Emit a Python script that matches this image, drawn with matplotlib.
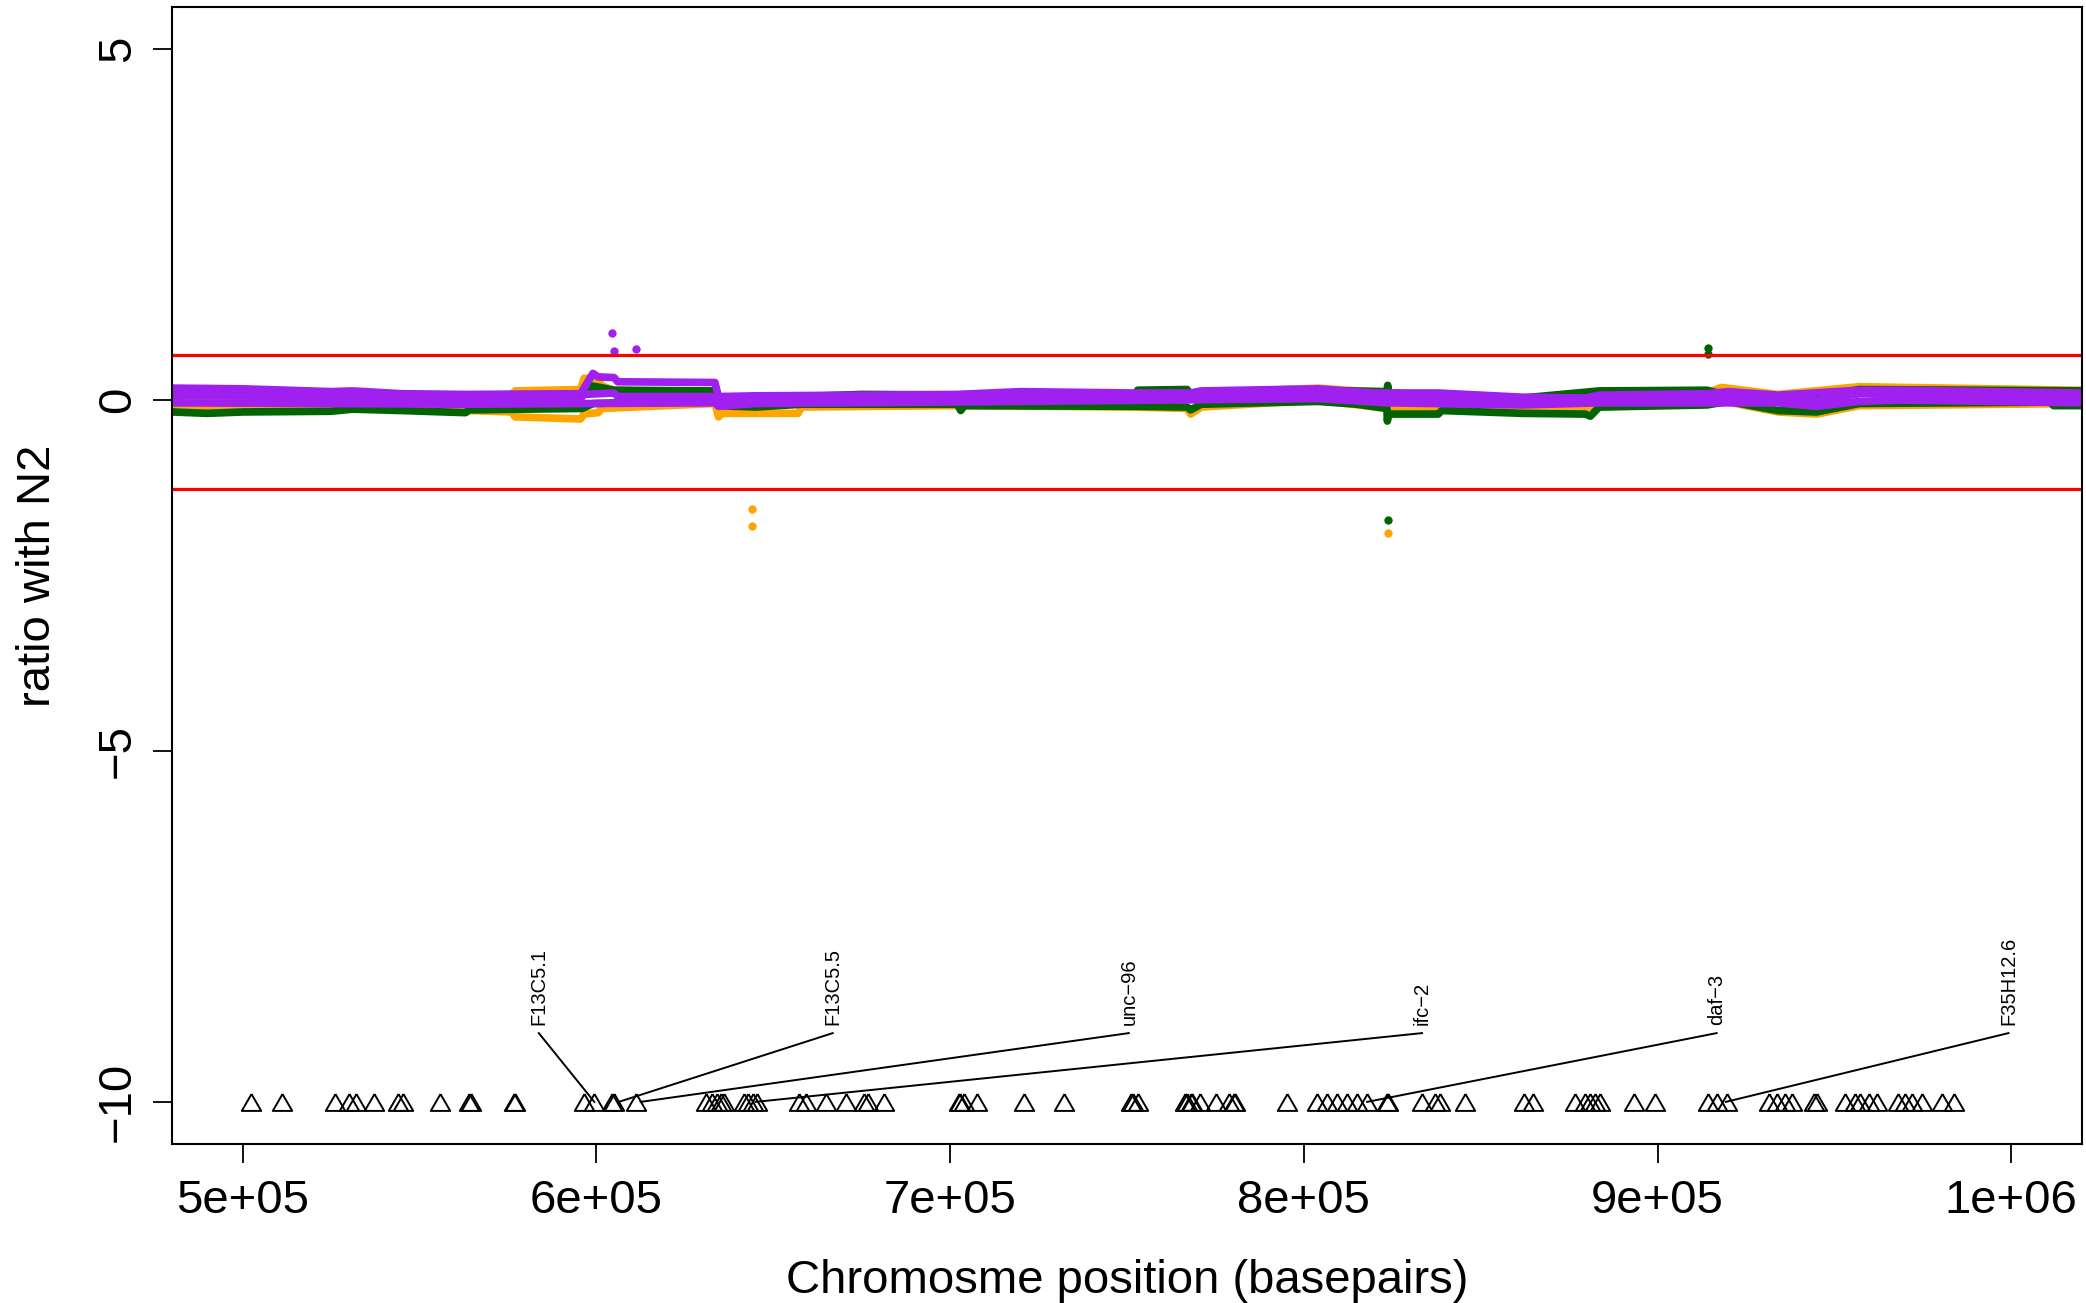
import matplotlib
matplotlib.use('Agg')
import matplotlib.pyplot as plt

plt.rcParams['font.family'] = ['Liberation Sans', 'DejaVu Sans']

# ratio tracks, several per strain colour (x in bp, y ratio)
orange_x1 = [480000, 563000, 564000, 576000, 577000, 595500, 596500, 600500, 601500, 605000,
             633500, 634500, 700000, 750000, 804000, 823500, 862000, 883500, 914000, 918000,
             934000, 957000, 969000, 1020000]
orange_y1 = [0.05, 0.03, 0.06, 0.08, 0.13, 0.15, 0.31, 0.30, 0.20, 0.14,
             0.10, 0.00, 0.05, 0.06, 0.17, 0.10, 0.03, 0.05, 0.10, 0.18,
             0.08, 0.19, 0.18, 0.14]
orange_x2 = [480000, 563000, 564000, 576000, 577000, 595500, 596500, 600500, 601500, 633500,
             634500, 635500, 657000, 658000, 702000, 752000, 767000, 768000, 771000, 804000,
             823500, 824000, 838000, 839000, 862000, 883500, 914000, 920000, 934000, 945000,
             957000, 1020000]
orange_y2 = [-0.10, -0.12, -0.15, -0.17, -0.24, -0.27, -0.20, -0.18, -0.12, -0.05,
             -0.24, -0.19, -0.19, -0.10, -0.08, -0.10, -0.12, -0.20, -0.10, 0.00,
             -0.12, -0.13, -0.14, -0.10, -0.10, -0.10, -0.05, -0.03, -0.17, -0.20,
             -0.08, -0.05]

green_x1 = [480000, 563000, 596000, 599000, 605000, 633500, 634500, 658000, 675000, 752000,
            753000, 767000, 768000, 804000, 823500, 823700, 824000, 862000, 883500, 914000,
            920000, 945000, 957000, 1020000]
green_y1 = [0.10, 0.05, 0.08, 0.20, 0.14, 0.13, 0.00, 0.05, 0.08, 0.06,
            0.14, 0.15, 0.08, 0.14, 0.12, 0.21, 0.10, 0.03, 0.13, 0.14,
            0.06, 0.05, 0.15, 0.13]
green_x2 = [480000, 490000, 500000, 525000, 531000, 545000, 563000, 564000, 596000, 599000,
            633500, 634500, 645000, 658000, 702000, 703000, 704000, 752000, 767000, 768000,
            771000, 804000, 815000, 823500, 823600, 824000, 838000, 839000, 862000, 879600,
            881000, 883500, 914000, 920000, 934000, 945000, 957000, 1011000, 1012000, 1020000]
green_y2 = [-0.17, -0.19, -0.17, -0.16, -0.13, -0.15, -0.18, -0.14, -0.12, -0.05,
            0.00, -0.08, -0.10, -0.06, -0.06, -0.15, -0.08, -0.09, -0.10, -0.14,
            -0.06, -0.02, -0.06, -0.12, -0.30, -0.20, -0.20, -0.15, -0.19, -0.20,
            -0.23, -0.10, -0.07, -0.02, -0.15, -0.17, -0.05, -0.03, -0.08, -0.08]

purple_x1 = [480000, 500000, 525000, 531000, 545000, 563000, 595500, 596500, 599000, 600500,
             605000, 606000, 633500, 634500, 645000, 675000, 702000, 720000, 752000, 768000,
             771000, 804000, 820000, 838000, 862000, 879600, 883500, 914000, 920000, 934000,
             957000, 969000, 1020000]
purple_y1 = [0.17, 0.16, 0.12, 0.13, 0.09, 0.08, 0.09, 0.17, 0.38, 0.33,
             0.32, 0.26, 0.25, 0.05, 0.06, 0.07, 0.08, 0.12, 0.10, 0.10,
             0.13, 0.16, 0.10, 0.10, 0.04, 0.03, 0.07, 0.09, 0.12, 0.07,
             0.14, 0.14, 0.10]
purple_x2 = [480000, 525000, 563000, 595500, 596500, 605000, 606000, 633500, 634500, 675000,
             720000, 804000, 823500, 862000, 883500, 914000, 920000, 945000, 957000, 969000,
             1020000]
purple_y2 = [0.07, 0.04, 0.02, 0.02, 0.08, 0.10, 0.05, 0.05, -0.01, 0.02,
             0.05, 0.09, 0.03, 0.00, 0.02, 0.03, 0.06, -0.01, 0.09, 0.09,
             0.03]
purple_x3 = [480000, 525000, 563000, 596000, 633500, 634500, 645000, 720000, 804000, 823500,
             862000, 883500, 934000, 945000, 957000, 969000, 1020000]
purple_y3 = [-0.04, -0.05, -0.06, -0.05, -0.04, -0.09, -0.05, -0.02, 0.02, -0.04,
             -0.07, -0.04, -0.04, -0.09, -0.02, 0.00, -0.04]

# single outlier points
orange_pts_x = [644000, 644000, 823700]
orange_pts_y = [-1.55, -1.80, -1.90]
green_pts_x = [823700, 914400, 914400]
green_pts_y = [-1.71, 0.74, 0.66]
purple_pts_x = [604400, 605000, 611200]
purple_pts_y = [0.95, 0.70, 0.73]

cutoffs = [0.64, -1.27]

# gene positions (triangles at y = -10)
gene_x = [502300, 511100, 526200, 530000, 531900, 537000, 543900, 545200, 555900, 564100,
          564400, 576700, 577000, 596500, 599400, 604500, 605100, 611100, 630900, 632800,
          634200, 635200, 636100, 641700, 642900, 644200, 645500, 657300, 659200, 664800,
          670500, 675600, 676700, 681300, 702600, 702900, 703900, 707700, 720900, 732300,
          751200, 751600, 753100, 766300, 767000, 768200, 768500, 770700, 775100, 778900,
          780200, 780500, 795300, 803700, 806500, 809400, 812200, 815000, 817900, 823500,
          823800, 833400, 837200, 838600, 845700, 862200, 864700, 876800, 879600, 881000,
          882400, 883800, 893200, 899300, 914400, 916800, 919600, 931400, 933700, 936100,
          938000, 944100, 945000, 953100, 955900, 957300, 959700, 962000, 968100, 970000,
          971900, 974700, 980400, 983700]
gene_names = ['F13C5.1', 'F13C5.5', 'unc\u221296', 'ifc\u22122', 'daf\u22123', 'F35H12.6']
gene_label_x = [583700, 666800, 750500, 833400, 916700, 999200]
gene_target_x = [599400, 606300, 612500, 645000, 817900, 919300]

xtick_pos = [500000, 600000, 700000, 800000, 900000, 1000000]
xtick_labels = ['5e+05', '6e+05', '7e+05', '8e+05', '9e+05', '1e+06']
ytick_pos = [5, 0, -5, -10]

fig = plt.figure(figsize=(20.86, 13.03), dpi=100)
ax = fig.add_axes([172 / 2086, 1 - 1144 / 1303, 1910 / 2086, 1137 / 1303])

line_kw = dict(lw=5.5, solid_capstyle='round', solid_joinstyle='round')
ax.plot(orange_x1, orange_y1, color='orange', **line_kw)
ax.plot(orange_x2, orange_y2, color='orange', **line_kw)
ax.plot(green_x1, green_y1, color='darkgreen', **line_kw)
ax.plot(green_x2, green_y2, color='darkgreen', **line_kw)
ax.plot(purple_x1, purple_y1, color='#A020F0', **line_kw)
ax.plot(purple_x2, purple_y2, color='#A020F0', **line_kw)
ax.plot(purple_x3, purple_y3, color='#A020F0', **line_kw)

ax.plot(orange_pts_x, orange_pts_y, 'o', color='orange', ms=6, mew=0)
ax.plot(green_pts_x, green_pts_y, 'o', color='darkgreen', ms=6, mew=0)
ax.plot(purple_pts_x, purple_pts_y, 'o', color='#A020F0', ms=6, mew=0)

for c in cutoffs:
    ax.axhline(c, color='red', lw=2.3)

tri = [(0, 0.75), (-0.866, -0.75), (0.866, -0.75), (0, 0.75)]
ax.plot(gene_x, [-10] * len(gene_x), linestyle='none', marker=tri, ms=14,
        mfc='none', mec='black', mew=1.4)

for name, lx, gx in zip(gene_names, gene_label_x, gene_target_x):
    ax.plot([lx, gx], [-9.02, -10], color='black', lw=1.4)
    ax.text(lx, -8.9, name, rotation=90, ha='center', va='bottom', fontsize=14.5)

ax.set_xlim(480000, 1020000)
ax.set_ylim(-10.6, 5.6)
ax.set_xticks(xtick_pos)
ax.set_xticklabels(xtick_labels)
ax.set_yticks(ytick_pos)
ax.tick_params(axis='both', labelsize=34, length=14, width=1.3, pad=9)
ax.tick_params(axis='x', pad=11)
ax.tick_params(axis='y', labelrotation=90)
for lab in ax.get_yticklabels():
    lab.set_va('center')
for s in ax.spines.values():
    s.set_linewidth(1.5)

ax.set_ylabel('ratio with N2', fontsize=34)
ax.yaxis.set_label_coords(-0.0586, 0.5)
fig.text(1127 / 2086, 1 - 1293 / 1303, 'Chromosme position (basepairs)',
         ha='center', va='baseline', fontsize=34)

fig.savefig('out.png', dpi=100)
